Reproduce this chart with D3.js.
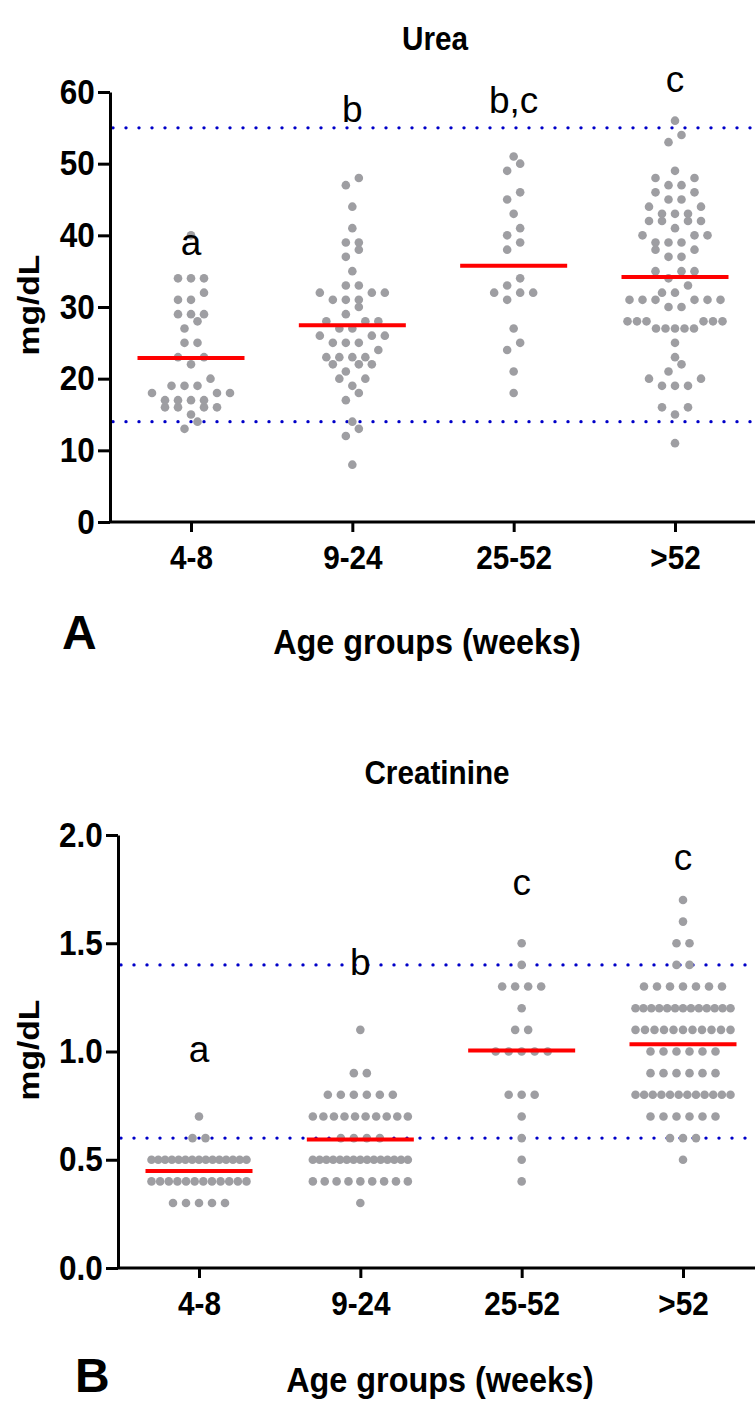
<!DOCTYPE html>
<html lang="en">
<head>
<meta charset="UTF-8">
<title>Urea and creatinine by age group</title>
<script src="https://d3js.org/d3.v7.min.js"></script>
<style>
  body { margin: 0; background: #fff; }
  svg { display: block; font-family: "Liberation Sans", Arial, sans-serif; }
</style>
</head>
<body>
<script>
// age groups (weeks)
var groups = ["4-8", "9-24", "25-52", ">52"];

// urea, mg/dL, one value per animal
var urea4to8 = [40, 34, 34, 34, 32, 31, 31, 29, 29, 29, 28, 27, 25, 25, 23, 23, 22, 20,
  19, 19, 19, 18, 18, 18, 17, 17, 17, 17, 16, 16, 16, 16, 15, 14, 13];
var urea9to24 = [48, 47, 44, 41, 39, 39, 38, 37, 35, 33, 33, 32, 32, 32, 31, 31, 31, 30,
  29, 28, 28, 28, 27, 27, 26, 26, 26, 25, 25, 25, 24, 23, 23, 23, 23, 22, 22, 22, 21,
  20, 20, 19, 18, 17, 14, 13, 12, 8];
var urea25to52 = [51, 50, 49, 46, 45, 43, 41, 40, 39, 38, 34, 33, 32, 32, 32, 31, 27, 25,
  24, 21, 18];
var ureaOver52 = [56, 54, 53, 49, 48, 48, 47, 47, 46, 46, 45, 45, 44, 44, 43, 43, 43, 42,
  42, 42, 42, 41, 40, 40, 40, 39, 39, 39, 38, 38, 37, 37, 35, 35, 35, 34, 33, 32, 32,
  31, 31, 31, 31, 31, 31, 30, 30, 28, 28, 28, 28, 28, 28, 27, 27, 27, 27, 27, 25, 23,
  22, 21, 20, 20, 19, 19, 19, 16, 16, 15, 11];

// creatinine, mg/dL
var crea4to8 = [0.7, 0.6, 0.6, 0.5, 0.5, 0.5, 0.5, 0.5, 0.5, 0.5, 0.5, 0.5, 0.5, 0.5, 0.5,
  0.5, 0.5, 0.5, 0.4, 0.4, 0.4, 0.4, 0.4, 0.4, 0.4, 0.4, 0.4, 0.4, 0.4, 0.4,
  0.3, 0.3, 0.3, 0.3, 0.3];
var crea9to24 = [1.1, 0.9, 0.9, 0.8, 0.8, 0.8, 0.8, 0.8, 0.8, 0.7, 0.7, 0.7, 0.7, 0.7, 0.7,
  0.7, 0.7, 0.7, 0.7, 0.6, 0.6, 0.6, 0.6, 0.5, 0.5, 0.5, 0.5, 0.5, 0.5, 0.5, 0.5, 0.5,
  0.5, 0.5, 0.5, 0.5, 0.5, 0.5, 0.4, 0.4, 0.4, 0.4, 0.4, 0.4, 0.4, 0.4, 0.4, 0.3];
var crea25to52 = [1.5, 1.4, 1.3, 1.3, 1.3, 1.3, 1.2, 1.1, 1.1, 1.0, 1.0, 1.0, 1.0, 1.0,
  0.8, 0.8, 0.8, 0.7, 0.6, 0.5, 0.4];
var creaOver52 = [1.7, 1.6, 1.5, 1.5, 1.4, 1.4, 1.3, 1.3, 1.3, 1.3, 1.3, 1.3, 1.3,
  1.2, 1.2, 1.2, 1.2, 1.2, 1.2, 1.2, 1.2, 1.2, 1.2, 1.2, 1.2, 1.2,
  1.1, 1.1, 1.1, 1.1, 1.1, 1.1, 1.1, 1.1, 1.1, 1.1, 1.1,
  1.0, 1.0, 1.0, 1.0, 1.0, 1.0, 0.9, 0.9, 0.9, 0.9, 0.9, 0.9,
  0.8, 0.8, 0.8, 0.8, 0.8, 0.8, 0.8, 0.8, 0.8, 0.8, 0.8, 0.8,
  0.7, 0.7, 0.7, 0.7, 0.7, 0.7, 0.6, 0.6, 0.6, 0.5];

// significance letters and reference range
var ureaLetters = ["a", "b", "b,c", "c"];
var creaLetters = ["a", "b", "c", "c"];
var ureaRange = [14, 55];
var creaRange = [0.6, 1.4];
var ureaTicks = [0, 10, 20, 30, 40, 50, 60];
var creaTicks = [0, 0.5, 1.0, 1.5, 2.0];

var W = 755, H = 1402;
var svg = d3.select("body").append("svg")
  .attr("width", W)
  .attr("height", H);

// the figure's lettering is tall and narrow
var SX = 0.9;

// prism-like column scatter: points close in y share a row and sit side by side
function swarm(values, y) {
  var binH = 9, gap = 13, maxW = 95;
  var pts = values.map(function(v) { return { v: v, py: y(v) }; })
    .sort(function(a, b) { return a.v - b.v; });
  var bins = [], cur = null;
  pts.forEach(function(p) {
    if (cur && Math.abs(p.py - cur.top) < binH) cur.items.push(p);
    else { cur = { top: p.py, items: [p] }; bins.push(cur); }
  });
  bins.forEach(function(b) {
    var n = b.items.length;
    var step = n > 1 ? Math.min(gap, maxW / (n - 1)) : 0;
    var slots = d3.range(n).map(function(k) { return (k - (n - 1) / 2) * step; });
    slots.sort(function(a, c) { return Math.abs(a) - Math.abs(c) || a - c; });
    b.items.forEach(function(p, i) { p.dx = slots[i]; });
  });
  return pts;
}

function label(g, x, y, txt, size, sx, anchor, rot) {
  g.append("text")
    .attr("transform", "translate(" + x + "," + y + ")" + (rot ? " rotate(-90)" : "") +
      " scale(" + sx + ",1)")
    .attr("text-anchor", anchor || "middle")
    .attr("font-size", size)
    .attr("font-weight", "bold")
    .text(txt);
}

function panel(cfg) {
  var g = svg.append("g");

  var y = d3.scaleLinear().domain(cfg.domain).range([cfg.bottom, cfg.top]);
  var x = d3.scalePoint().domain(groups).range(cfg.xRange);

  // reference range
  g.selectAll(".ref")
    .data(cfg.range)
    .enter()
    .append("line")
    .attr("x1", cfg.axisX + 3)
    .attr("x2", W)
    .attr("y1", function(d) { return y(d); })
    .attr("y2", function(d) { return y(d); })
    .attr("stroke", "#0000c8")
    .attr("stroke-width", 3.4)
    .attr("stroke-linecap", "round")
    .attr("stroke-dasharray", "0 13");

  // dots
  cfg.series.forEach(function(vals, i) {
    var cx = x(groups[i]);
    g.append("g")
      .selectAll("circle")
      .data(swarm(vals, y))
      .enter()
      .append("circle")
      .attr("cx", function(d) { return cx + d.dx; })
      .attr("cy", function(d) { return d.py; })
      .attr("r", 4.3)
      .attr("fill", "#9e9ea2");
  });

  // mean lines
  g.selectAll(".mean")
    .data(cfg.series)
    .enter()
    .append("line")
    .attr("x1", function(d, i) { return x(groups[i]) - 53.5; })
    .attr("x2", function(d, i) { return x(groups[i]) + 53.5; })
    .attr("y1", function(d) { return y(d3.mean(d)); })
    .attr("y2", function(d) { return y(d3.mean(d)); })
    .attr("stroke", "#ff0000")
    .attr("stroke-width", 4);

  // y axis
  var yAxis = d3.axisLeft(y)
    .tickValues(cfg.ticks)
    .tickFormat(cfg.fmt)
    .tickSize(12)
    .tickSizeOuter(0)
    .tickPadding(3);
  var ya = g.append("g")
    .attr("transform", "translate(" + cfg.axisX + ",0)")
    .call(yAxis);

  // x axis
  var xAxis = d3.axisBottom(x).tickSize(10).tickPadding(14).tickSizeOuter(0);
  var xa = g.append("g")
    .attr("transform", "translate(0," + cfg.bottom + ")")
    .call(xAxis);
  xa.select(".domain").remove();
  g.append("line")
    .attr("x1", cfg.axisX)
    .attr("x2", W)
    .attr("y1", cfg.bottom)
    .attr("y2", cfg.bottom)
    .attr("stroke", "#000")
    .attr("stroke-width", 3);

  [ya, xa].forEach(function(a) {
    a.attr("font-family", null).attr("font-weight", "bold");
    a.selectAll("line, .domain").attr("stroke", "#000").attr("stroke-width", 3);
    a.selectAll("text").attr("fill", "#000")
      .attr("transform", "scale(" + SX + ",1)");
  });
  ya.attr("font-size", 35);
  xa.attr("font-size", 33);
  ya.selectAll("text").attr("x", -17);

  // letters above each group
  g.selectAll(".letter")
    .data(cfg.letters)
    .enter()
    .append("text")
    .attr("x", function(d, i) { return x(groups[i]); })
    .attr("y", function(d, i) { return y(cfg.letterY[i]); })
    .attr("text-anchor", "middle")
    .attr("font-size", 37)
    .text(function(d) { return d; });

  // titles
  label(g, cfg.titleX, cfg.titleY, cfg.title, 33, SX);
  label(g, cfg.ylabX, cfg.ylabY, "mg/dL", 30, 1.12, "middle", true);
  label(g, cfg.xlabX, cfg.xlabY, "Age groups (weeks)", 36, SX);
  label(g, cfg.tagX, cfg.tagY, cfg.tag, 48, 1, "start");
}

panel({
  series: [urea4to8, urea9to24, urea25to52, ureaOver52],
  domain: [0, 60], ticks: ureaTicks, fmt: d3.format("d"),
  range: ureaRange, letters: ureaLetters, letterY: [37.3, 55.8, 57.1, 60.0],
  axisX: 110, top: 92, bottom: 522, xRange: [191, 675],
  title: "Urea", titleX: 435, titleY: 50,
  ylabX: 39, ylabY: 305, xlabX: 427, xlabY: 654,
  tag: "A", tagX: 62, tagY: 649
});

panel({
  series: [crea4to8, crea9to24, crea25to52, creaOver52],
  domain: [0, 2], ticks: creaTicks, fmt: d3.format(".1f"),
  range: creaRange, letters: creaLetters, letterY: [0.95, 1.353, 1.723, 1.838],
  axisX: 118, top: 835, bottom: 1268, xRange: [199, 683],
  title: "Creatinine", titleX: 437, titleY: 784,
  ylabX: 39, ylabY: 1050, xlabX: 440, xlabY: 1392,
  tag: "B", tagX: 75, tagY: 1392
});
</script>
</body>
</html>
